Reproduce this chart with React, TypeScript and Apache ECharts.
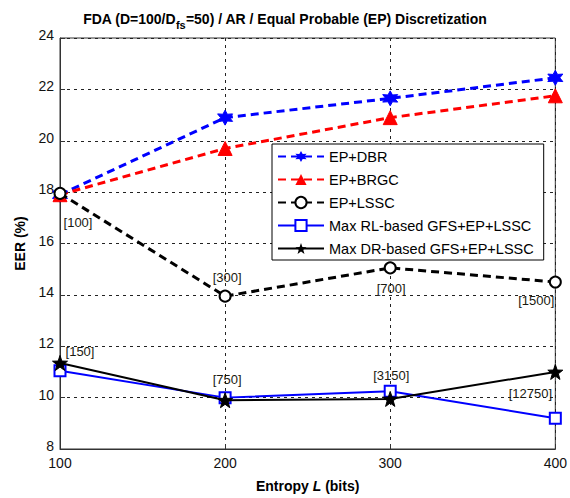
import React, { useEffect, useRef } from "react";
import * as echarts from "echarts";

const xValues = [100, 200, 300, 400];
const epDbr = [17.9, 20.9, 21.65, 22.45];
const epBrgc = [17.9, 19.7, 20.9, 21.75];
const epLssc = [17.95, 13.95, 15.05, 14.5];
const maxRl = [11.05, 10.0, 10.25, 9.2];
const maxDr = [11.35, 9.9, 9.95, 11.0];
const lsscNotes = ["[100]", "[300]", "[700]", "[1500]"];
const drNotes = ["[150]", "[750]", "[3150]", "[12750]"];
const yTicks = [8, 10, 12, 14, 16, 18, 20, 22, 24];

// label offsets (style only)
const lsscOffsets = [[18, 29], [2, -19], [1, 21], [-19, 18]];
const drOffsets = [[20, -11], [2, -21], [1, -23], [-25, 22]];

function starPath(points: number, outer: number, inner: number): string {
  const pts: string[] = [];
  for (let i = 0; i < points * 2; i++) {
    const r = i % 2 === 0 ? outer : inner;
    const a = (Math.PI * i) / points - Math.PI / 2;
    pts.push(`${(r * Math.cos(a)).toFixed(3)} ${(r * Math.sin(a)).toFixed(3)}`);
  }
  return "path://M" + pts.join(" L") + " Z";
}

const hexagram = starPath(6, 10, 5.2);
const pentagram = starPath(5, 10, 4);

const FONT = "'Liberation Sans', Arial, sans-serif";

export default function App() {
  const ref = useRef<HTMLDivElement>(null);
  useEffect(() => {
    if (!ref.current) return;
    const chart = echarts.init(ref.current, undefined, { renderer: "svg" });
    const pair = (ys: number[]) => xValues.map((x, i) => [x, ys[i]]);
    const noteLabel = (text: string, off: number[]) => ({
      show: true,
      formatter: text,
      position: "inside",
      offset: off,
      fontFamily: FONT,
      fontSize: 13,
      color: "#1a1a10",
    });
    chart.setOption({
      animation: false,
      backgroundColor: "#ffffff",
      textStyle: { fontFamily: FONT },
      title: {
        text: "{a|FDA (D=100/D}{s|fs}{a|=50) / AR / Equal Probable (EP) Discretization}",
        left: 280,
        textAlign: "center",
        top: 3,
        textStyle: {
          rich: {
            a: { fontFamily: FONT, fontSize: 14, fontWeight: "bold", color: "#000", lineHeight: 22, verticalAlign: "middle" },
            s: { fontFamily: FONT, fontSize: 11, fontWeight: "bold", color: "#000", lineHeight: 22, verticalAlign: "bottom" },
          },
        },
      },
      grid: {
        left: 60,
        right: 10,
        top: 38,
        bottom: 48,
        show: true,
        borderColor: "#333",
        borderWidth: 1,
        backgroundColor: "#fff",
      },
      legend: {
        orient: "vertical",
        left: 272,
        top: 144,
        padding: [5, 10, 4, 5],
        itemWidth: 46,
        itemHeight: 14,
        itemGap: 8,
        backgroundColor: "#fff",
        borderColor: "#000",
        borderWidth: 1,
        borderRadius: 0,
        textStyle: { fontFamily: FONT, fontSize: 14.5, color: "#000" },
        data: ["EP+DBR", "EP+BRGC", "EP+LSSC", "Max RL-based GFS+EP+LSSC", "Max DR-based GFS+EP+LSSC"],
      },
      xAxis: {
        type: "value",
        min: 100,
        max: 400,
        interval: 100,
        name: "{b|Entropy }{i|L}{b| (bits)}",
        nameLocation: "middle",
        nameGap: 30,
        nameTextStyle: {
          rich: {
            b: { fontFamily: FONT, fontSize: 14, fontWeight: "bold", color: "#000" },
            i: { fontFamily: FONT, fontSize: 14, fontWeight: "bold", fontStyle: "italic", color: "#000" },
          },
        },
        axisLine: { show: true, lineStyle: { color: "#333", width: 1 } },
        axisTick: { show: true, inside: true, length: 5, lineStyle: { color: "#333" } },
        axisLabel: { fontFamily: FONT, fontSize: 14, color: "#111", margin: 7 },
        splitLine: { show: true, lineStyle: { color: "#222", type: [3, 4], width: 1 } },
      },
      yAxis: {
        type: "value",
        min: 8,
        max: 24,
        interval: 2,
        name: "EER (%)",
        nameLocation: "middle",
        nameGap: 33,
        nameTextStyle: { fontFamily: FONT, fontSize: 14, fontWeight: "bold", color: "#000" },
        axisLine: { show: true, lineStyle: { color: "#333", width: 1 } },
        axisTick: { show: true, inside: true, length: 5, lineStyle: { color: "#333" } },
        axisLabel: {
          fontFamily: FONT,
          fontSize: 14,
          color: "#111",
          margin: 6,
          verticalAlign: "bottom",
          lineHeight: 14,
          padding: [0, 0, -4, 0],
          formatter: (v: number) => (yTicks.includes(v) ? String(v) : ""),
        },
        splitLine: { show: true, lineStyle: { color: "#222", type: [3, 4], width: 1 } },
      },
      series: [
        {
          name: "EP+DBR",
          type: "line",
          data: pair(epDbr),
          symbol: hexagram,
          symbolSize: 15,
          lineStyle: { color: "#0000ff", width: 3, type: [8, 5] },
          itemStyle: { color: "#0000ff", borderColor: "#0000ff" },
          z: 3,
        },
        {
          name: "EP+BRGC",
          type: "line",
          data: pair(epBrgc),
          symbol: "triangle",
          symbolSize: 14,
          lineStyle: { color: "#ff0000", width: 3, type: [8, 5] },
          itemStyle: { color: "#ff0000", borderColor: "#ff0000" },
          z: 3,
        },
        {
          name: "EP+LSSC",
          type: "line",
          data: xValues.map((x, i) => ({
            value: [x, epLssc[i]],
            label: noteLabel(lsscNotes[i], lsscOffsets[i]),
          })),
          symbol: "circle",
          symbolSize: 11,
          lineStyle: { color: "#000", width: 3, type: [8, 5] },
          itemStyle: { color: "#fff", borderColor: "#000", borderWidth: 2 },
          z: 4,
        },
        {
          name: "Max RL-based GFS+EP+LSSC",
          type: "line",
          data: pair(maxRl),
          symbol: "rect",
          symbolSize: 11,
          lineStyle: { color: "#0000ff", width: 2, type: "solid" },
          itemStyle: { color: "#fff", borderColor: "#0000ff", borderWidth: 2 },
          z: 4,
        },
        {
          name: "Max DR-based GFS+EP+LSSC",
          type: "line",
          data: xValues.map((x, i) => ({
            value: [x, maxDr[i]],
            label: noteLabel(drNotes[i], drOffsets[i]),
          })),
          symbol: pentagram,
          symbolSize: 15,
          lineStyle: { color: "#000", width: 2, type: "solid" },
          itemStyle: { color: "#000", borderColor: "#000" },
          z: 5,
        },
      ],
    });
    return () => chart.dispose();
  }, []);
  return (
    <div
      ref={ref}
      style={{ position: "fixed", left: 0, top: 0, width: 570, height: 498, background: "#fff" }}
    />
  );
}
